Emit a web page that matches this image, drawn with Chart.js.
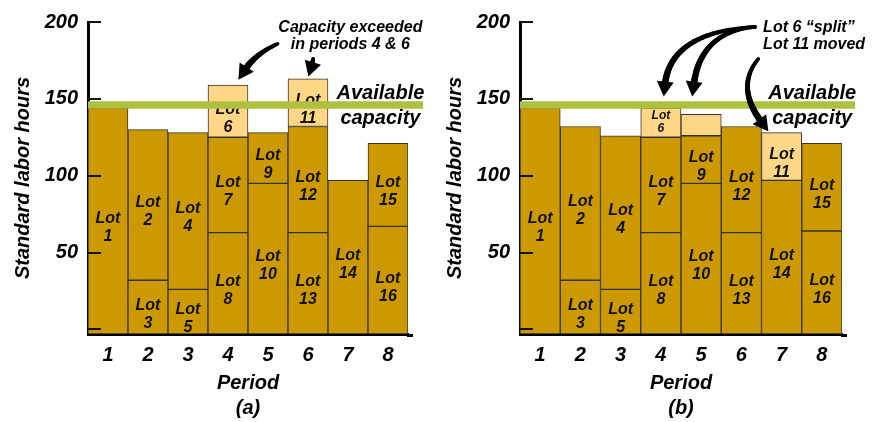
<!DOCTYPE html>
<html>
<head>
<meta charset="utf-8">
<script src="https://cdn.jsdelivr.net/npm/chart.js"></script>
<style>
  html, body { margin: 0; padding: 0; background: #fff; }
  .wrap { display: flex; width: 879px; height: 422px; }
  canvas { display: block; }
</style>
</head>
<body>
<div class="wrap">
  <canvas id="chart_a" width="440" height="422"></canvas>
  <canvas id="chart_b" width="439" height="422"></canvas>
</div>
<script>
// data
const periods = ['1', '2', '3', '4', '5', '6', '7', '8'];
const yTickValues = [0, 50, 100, 150, 200];
const capacityHours = 146;

// (a) original plan
const a_bottom_hours = [144, 32, 26, 63, 95, 63, 97, 67];
const a_bottom_lots  = [1, 3, 5, 8, 10, 13, 14, 16];
const a_middle_hours = [null, 98, 102, 62, 33, 69, null, 54];
const a_middle_lots  = [null, 2, 4, 7, 9, 12, null, 15];
const a_over_hours   = [null, null, null, 34, null, 31, null, null];
const a_over_lots    = [null, null, null, 6, null, 11, null, null];

// (b) lot 6 split, lot 11 moved
const b_bottom_hours = [144, 32, 26, 63, 95, 63, 97, 64];
const b_bottom_lots  = [1, 3, 5, 8, 10, 13, 14, 16];
const b_middle_hours = [null, 100, 100, 62, 31, 69, null, 57];
const b_middle_lots  = [null, 2, 4, 7, 9, 12, null, 15];
const b_moved_hours  = [null, null, null, 19, 14, null, 31, null];
const b_moved_lots   = [null, null, null, 6, null, null, 11, null];

const FONT = "'Liberation Sans', Arial, sans-serif";
const darkGold = '#CC9900';
const lightGold = '#FFD787';
const lineGreen = '#AFBF3F';

function lotDataset(hours, lots, color, bottom) {
  const ds = {
    data: hours,
    lots: lots,
    backgroundColor: color,
    borderColor: '#333',
    borderWidth: 1,
    borderSkipped: false,
    barPercentage: 1,
    categoryPercentage: 1
  };
  if (bottom) ds.base = -3; // bars sit on the thick x axis line
  return ds;
}

function drawArrow(ctx, p0, p1, p2) {
  const ang = Math.atan2(p2.y - p1.y, p2.x - p1.x);
  const headLen = 15, headHalf = 8.5;
  const end = { x: p2.x - Math.cos(ang) * headLen * 0.8, y: p2.y - Math.sin(ang) * headLen * 0.8 };
  const n = 24;
  let px = p0.x, py = p0.y;
  ctx.lineCap = 'round';
  for (let k = 1; k <= n; k++) {
    const t = k / n;
    const x = (1 - t) * (1 - t) * p0.x + 2 * (1 - t) * t * p1.x + t * t * end.x;
    const y = (1 - t) * (1 - t) * p0.y + 2 * (1 - t) * t * p1.y + t * t * end.y;
    ctx.lineWidth = 3.5 + 3 * t;
    ctx.beginPath(); ctx.moveTo(px, py); ctx.lineTo(x, y); ctx.stroke();
    px = x; py = y;
  }
  const bx = p2.x - Math.cos(ang) * headLen, by = p2.y - Math.sin(ang) * headLen;
  ctx.beginPath();
  ctx.moveTo(p2.x, p2.y);
  ctx.lineTo(bx - Math.sin(ang) * headHalf, by + Math.cos(ang) * headHalf);
  ctx.lineTo(bx + Math.sin(ang) * headHalf, by - Math.cos(ang) * headHalf);
  ctx.closePath();
  ctx.fill();
}

const drawExtras = {
  id: 'drawExtras',
  afterDatasetsDraw(chart) {
    const ctx = chart.ctx, xs = chart.scales.x, ys = chart.scales.y, area = chart.chartArea;
    const extra = chart.options.plugins.drawExtras;
    const pt = (p) => ({ x: xs.getPixelForValue(p[0]), y: ys.getPixelForValue(p[1]) });
    ctx.save();

    // lot labels inside the bars
    ctx.fillStyle = '#111';
    ctx.textAlign = 'center';
    ctx.textBaseline = 'middle';
    chart.data.datasets.forEach((ds, di) => {
      chart.getDatasetMeta(di).data.forEach((bar, i) => {
        if (ds.lots[i] == null) return;
        const h = Math.abs(bar.base - bar.y);
        const small = h < 35;
        const size = small ? 12 : 16, gap = small ? 13 : 18;
        const cy = (bar.y + bar.base) / 2 + (small ? 0 : 7);
        ctx.font = `italic bold ${size}px ${FONT}`;
        ctx.fillText('Lot', bar.x, cy - gap / 2);
        ctx.fillText(String(ds.lots[i]), bar.x, cy + gap / 2);
      });
    });

    // tick marks pointing into the plot, and the x axis running past the last bar
    ctx.strokeStyle = '#111';
    ctx.lineWidth = 2;
    yTickValues.forEach(v => {
      const y = Math.round(ys.getPixelForValue(v));
      ctx.beginPath(); ctx.moveTo(area.left, y); ctx.lineTo(area.left + 13, y); ctx.stroke();
    });
    ctx.strokeStyle = '#000';
    ctx.lineWidth = 3;
    ctx.beginPath(); ctx.moveTo(area.right - 1, area.bottom + 1.5); ctx.lineTo(area.right + 5, area.bottom + 1.5); ctx.stroke();

    // available capacity line
    const capY = ys.getPixelForValue(capacityHours);
    ctx.strokeStyle = lineGreen;
    ctx.lineWidth = 7.5;
    ctx.lineCap = 'butt';
    ctx.beginPath(); ctx.moveTo(area.left, capY); ctx.lineTo(area.right + extra.lineExtend, capY); ctx.stroke();

    // notes
    ctx.fillStyle = '#000';
    extra.notes.forEach(n => {
      ctx.font = `italic bold ${n.size}px ${FONT}`;
      ctx.textAlign = n.align;
      n.lines.forEach((txt, k) => {
        ctx.fillText(txt, xs.getPixelForValue(n.x), ys.getPixelForValue(n.y[k]));
      });
    });

    // arrows
    ctx.strokeStyle = '#000';
    ctx.fillStyle = '#000';
    extra.arrows.forEach(a => drawArrow(ctx, pt(a.tail), pt(a.ctrl), pt(a.tip)));
    ctx.restore();
  }
};

function makeChart(id, datasets, cfg) {
  const tickFont = { family: FONT, size: 20, weight: 'bold', style: 'italic' };
  return new Chart(document.getElementById(id), {
    type: 'bar',
    data: { labels: periods, datasets: datasets },
    options: {
      responsive: false,
      animation: false,
      layout: { padding: { top: 20, right: cfg.padRight, bottom: 0, left: 0 } },
      plugins: {
        legend: { display: false },
        tooltip: { enabled: false },
        drawExtras: cfg
      },
      scales: {
        x: {
          stacked: true,
          grid: { display: false, drawTicks: false },
          border: { display: true, color: '#000', width: 3 },
          ticks: { color: '#000', font: tickFont, padding: 9 },
          title: {
            display: true, text: ['Period', cfg.panel], color: '#000',
            font: { family: FONT, size: 20, weight: 'bold', style: 'italic', lineHeight: 1.25 },
            padding: { top: 0, bottom: 1 }
          },
          afterFit: s => { s.height = 88; }
        },
        y: {
          stacked: true,
          min: -3,
          max: 200,
          grid: { display: false, drawTicks: false },
          border: { display: true, color: '#000', width: 3 },
          afterBuildTicks: s => { s.ticks = yTickValues.map(v => ({ value: v })); },
          ticks: {
            color: '#000', font: tickFont, padding: 10,
            callback: v => (v === 0 ? '' : String(v))
          },
          title: {
            display: true, text: 'Standard labor hours', color: '#000',
            font: { family: FONT, size: 20, weight: 'bold', style: 'italic' },
            padding: { top: cfg.titlePad, bottom: 0 }
          },
          afterFit: s => { s.width = cfg.yWidth; }
        }
      }
    },
    plugins: [drawExtras]
  });
}

makeChart('chart_a', [
  lotDataset(a_bottom_hours, a_bottom_lots, darkGold, true),
  lotDataset(a_middle_hours, a_middle_lots, darkGold, false),
  lotDataset(a_over_hours, a_over_lots, lightGold, false)
], {
  panel: '(a)', yWidth: 88, padRight: 32, titlePad: 11, lineExtend: 15,
  notes: [
    { lines: ['Capacity exceeded', 'in periods 4 & 6'], x: 6.06, y: [196.1, 185.1], size: 16, align: 'center' },
    { lines: ['Available', 'capacity'], x: 6.81, y: [153.5, 137.3], size: 20, align: 'center' }
  ],
  arrows: [
    { tail: [4.24, 185.8], ctrl: [3.69, 179.3], tip: [3.26, 162.5] },
    { tail: [5.13, 176.1], ctrl: [5.08, 170.3], tip: [5.01, 164.5] }
  ]
});

makeChart('chart_b', [
  lotDataset(b_bottom_hours, b_bottom_lots, darkGold, true),
  lotDataset(b_middle_hours, b_middle_lots, darkGold, false),
  lotDataset(b_moved_hours, b_moved_lots, lightGold, false)
], {
  panel: '(b)', yWidth: 80, padRight: 37, titlePad: 3, lineExtend: 13,
  notes: [
    { lines: ['Lot 6 \u201csplit\u201d', 'Lot 11 moved'], x: 5.54, y: [196.1, 185.1], size: 16, align: 'left' },
    { lines: ['Available', 'capacity'], x: 6.76, y: [153.5, 137.3], size: 20, align: 'center' }
  ],
  arrows: [
    { tail: [5.34, 196.8], ctrl: [3.24, 193.6], tip: [3.07, 151.5] },
    { tail: [5.34, 196.8], ctrl: [3.98, 193.6], tip: [3.78, 151.5] },
    { tail: [5.42, 176.0], ctrl: [4.85, 157.9], tip: [5.67, 128.9] }
  ]
});
</script>
</body>
</html>
